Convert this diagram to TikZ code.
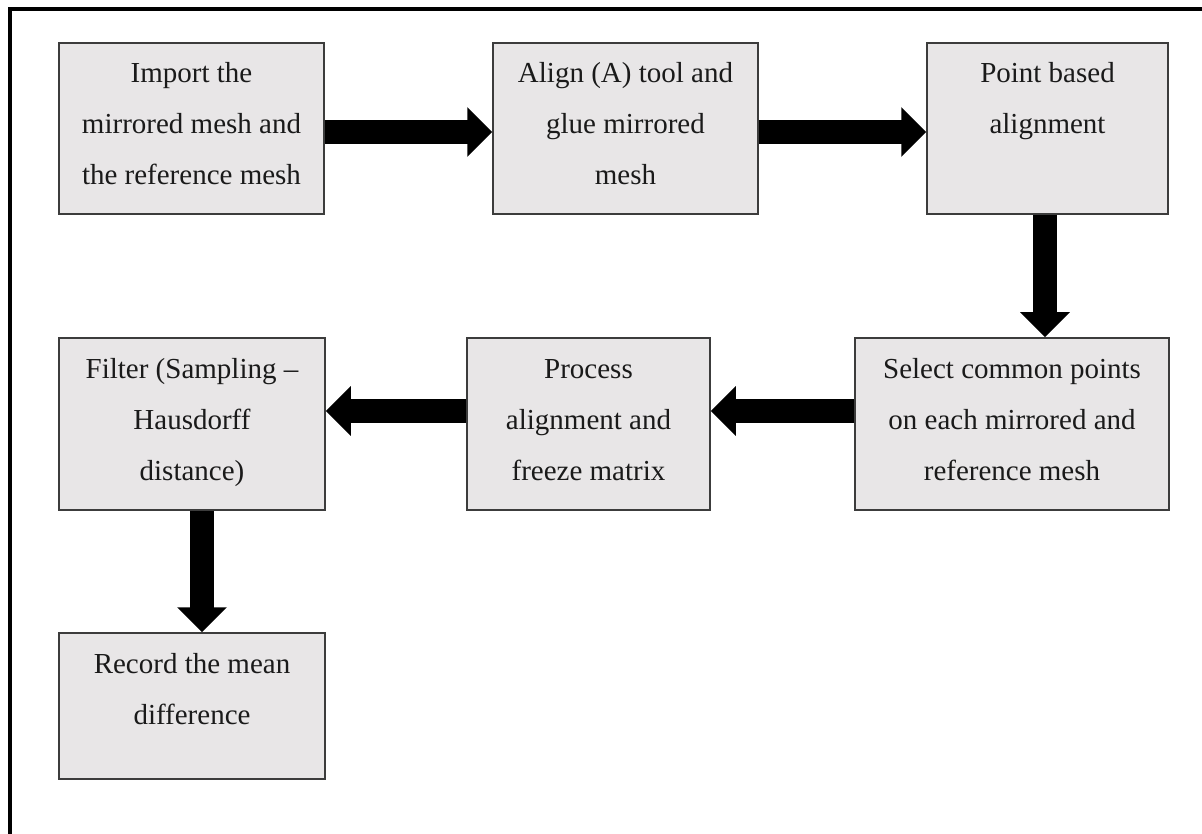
\documentclass[tikz,border=0pt]{standalone}
\usepackage{fontspec}
\setmainfont{Liberation Serif}
\usetikzlibrary{arrows.meta}
\definecolor{boxfill}{HTML}{E8E6E7}
\definecolor{boxline}{HTML}{3C3C3C}
\definecolor{txt}{HTML}{1A1A1A}
\newcommand{\bxt}[3]{\parbox[c][#2][t]{#1}{\centering\rule{0pt}{40pt}#3}}
\tikzset{
  stepbox/.style={draw=boxline, line width=1.5pt, fill=boxfill, inner sep=0pt, text=txt, font=\fontsize{29}{51}\selectfont},
  flowarrow/.style={draw=black, line width=24pt, -{Triangle[width=48pt,length=25pt]}},
  frameline/.style={line width=4pt, line join=miter}
}
\begin{document}
\begin{tikzpicture}[x=1pt,y=-1pt]
\useasboundingbox (0,0) rectangle (1202,834);
\coordinate (fbl) at (10,834);
\coordinate (ftl) at (10,9.3);
\coordinate (ftr) at (1202,9.3);
\draw[frameline] (fbl) -- (ftl) -- (ftr);
\node[stepbox] (b1) at (191.5,128.5) {\bxt{265pt}{171pt}{Import the\\mirrored mesh and\\the reference mesh}};
\node[stepbox] (b2) at (625.5,128.5) {\bxt{265pt}{171pt}{Align (A) tool and\\glue mirrored\\mesh}};
\node[stepbox] (b3) at (1047.5,128.5) {\bxt{241pt}{171pt}{Point based\\alignment}};
\node[stepbox] (b4) at (1012,424) {\bxt{314pt}{172pt}{Select common points\\on each mirrored and\\reference mesh}};
\node[stepbox] (b5) at (588.5,424) {\bxt{243pt}{172pt}{Process\\alignment and\\freeze matrix}};
\node[stepbox] (b6) at (192,424) {\bxt{266pt}{172pt}{Filter (Sampling –\\Hausdorff\\distance)}};
\node[stepbox] (b7) at (192,706) {\bxt{266pt}{146pt}{Record the mean\\difference}};
\draw[flowarrow] ([yshift=-3.5pt]b1.east) -- ([yshift=-3.5pt]b2.west);
\draw[flowarrow] ([yshift=-3.5pt]b2.east) -- ([yshift=-3.5pt]b3.west);
\draw[flowarrow] ([xshift=-2.5pt]b3.south) -- ([xshift=-2.5pt]b3.south |- b4.north);
\draw[flowarrow] ([yshift=13pt]b4.west) -- ([yshift=13pt]b5.east);
\draw[flowarrow] ([yshift=13pt]b5.west) -- ([yshift=13pt]b6.east);
\draw[flowarrow] ([xshift=10pt]b6.south) -- ([xshift=10pt]b7.north);
\end{tikzpicture}
\end{document}
